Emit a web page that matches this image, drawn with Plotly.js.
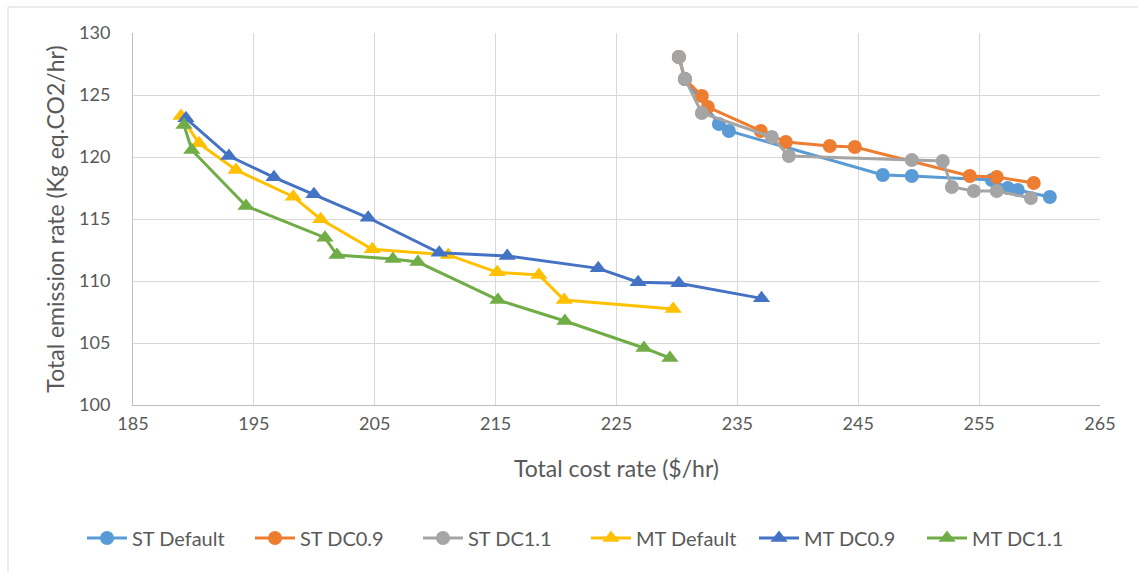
<!DOCTYPE html>
<html>
<head>
<meta charset="utf-8">
<script src="https://cdn.plot.ly/plotly-3.0.1.min.js"></script>
<style>html,body{margin:0;padding:0;background:#fff;}#chart{width:1138px;height:572px;}</style>
</head>
<body>
<div id="chart"></div>
<script>
// ST series (circles)
const stDefaultX = [230.16, 230.66, 233.47, 234.30, 247.03, 249.43, 256.05, 257.37, 258.20, 260.85];
const stDefaultY = [128.06, 126.29, 122.66, 122.10, 118.55, 118.47, 118.15, 117.50, 117.34, 116.77];
const stDC09X = [230.16, 230.66, 232.06, 232.56, 236.94, 239.01, 242.65, 244.72, 254.23, 256.46, 259.52];
const stDC09Y = [128.06, 126.29, 124.92, 124.03, 122.10, 121.21, 120.89, 120.81, 118.47, 118.39, 117.90];
const stDC11X = [230.16, 230.66, 232.06, 237.85, 239.26, 249.43, 251.99, 252.74, 254.56, 256.46, 259.28];
const stDC11Y = [128.06, 126.29, 123.55, 121.61, 120.08, 119.76, 119.68, 117.58, 117.26, 117.26, 116.69];
// MT series (triangles)
const mtDefaultX = [188.97, 190.46, 193.52, 198.26, 200.53, 204.79, 211.08, 215.13, 218.58, 220.67, 229.69];
const mtDefaultY = [123.31, 121.10, 118.95, 116.80, 114.98, 112.56, 112.10, 110.70, 110.48, 108.47, 107.74];
const mtDC09X = [189.38, 192.94, 196.66, 199.97, 204.46, 210.33, 215.96, 223.49, 226.79, 230.16, 237.00];
const mtDC09Y = [123.12, 120.08, 118.36, 116.99, 115.10, 112.28, 112.02, 111.02, 109.90, 109.81, 108.60];
const mtDC11X = [189.22, 189.86, 194.35, 200.88, 201.87, 206.50, 208.57, 215.19, 220.73, 227.27, 229.42];
const mtDC11Y = [122.58, 120.56, 116.05, 113.49, 112.10, 111.77, 111.53, 108.47, 106.77, 104.60, 103.79];

const seriesNames = ["ST Default", "ST DC0.9", "ST DC1.1", "MT Default", "MT DC0.9", "MT DC1.1"];
const seriesColors = ["#5B9BD5", "#ED7D31", "#A5A5A5", "#FFC000", "#4472C4", "#70AD47"];
const xs = [stDefaultX, stDC09X, stDC11X, mtDefaultX, mtDC09X, mtDC11X];
const ys = [stDefaultY, stDC09Y, stDC11Y, mtDefaultY, mtDC09Y, mtDC11Y];
const xTicks = [185, 195, 205, 215, 225, 235, 245, 255, 265];
const yTicks = [100, 105, 110, 115, 120, 125, 130];

const FONT = "Lato, 'Open Sans', sans-serif";
const traces = seriesNames.map((n, i) => ({
  type: "scatter", mode: "lines+markers", name: n,
  x: xs[i], y: ys[i],
  legend: i < 3 ? "legend" : "legend2",
  line: {color: seriesColors[i], width: 3},
  marker: {color: seriesColors[i], size: i < 3 ? 14 : 15, symbol: i < 3 ? "circle" : "triangle-up"}
}));

function legendAt(px) {
  return {orientation: "h", xref: "container", yref: "container", x: px / 1138, xanchor: "left",
          y: 1 - 538 / 572, yanchor: "middle",
          font: {family: FONT, size: 20, color: "#595959"}, itemwidth: 40,
          entrywidth: 113, entrywidthmode: "pixels", tracegroupgap: 0, bgcolor: "rgba(0,0,0,0)"};
}

const layout = {
  width: 1138, height: 572,
  margin: {l: 133, r: 38, t: 33, b: 167},
  paper_bgcolor: "#fff", plot_bgcolor: "#fff",
  font: {family: FONT, color: "#595959", size: 18},
  showlegend: true,
  legend: legendAt(82),
  legend2: legendAt(586),
  xaxis: {range: [185, 265], tickvals: xTicks, ticktext: xTicks.map(String), automargin: false,
          showgrid: true, gridcolor: "#D9D9D9", gridwidth: 1,
          showline: true, linecolor: "#BFBFBF", linewidth: 1, zeroline: false,
          ticks: "outside", ticklen: 2, tickcolor: "rgba(0,0,0,0)", tickfont: {size: 18, color: "#595959"},
          title: {text: "Total cost rate ($/hr)", font: {size: 23, color: "#595959"}, standoff: 28}},
  yaxis: {range: [100, 130], tickvals: yTicks, ticktext: yTicks.map(String), automargin: false,
          showgrid: true, gridcolor: "#D9D9D9", gridwidth: 1,
          showline: true, linecolor: "#BFBFBF", linewidth: 1, zeroline: false,
          ticks: "outside", ticklen: 18, tickcolor: "rgba(0,0,0,0)", tickfont: {size: 18, color: "#595959"},
          title: {text: "Total emission rate (Kg eq.CO2/hr)", font: {size: 23, color: "#595959"}, standoff: 8}},
  shapes: [{type: "rect", xref: "paper", yref: "paper",
            x0: (8 - 133) / 967, x1: (1145 - 133) / 967,
            y0: (405 - 580) / 372, y1: 1 + (33 - 7) / 372,
            line: {color: "#D9D9D9", width: 1}, fillcolor: "rgba(0,0,0,0)", layer: "below"}]
};
Plotly.newPlot("chart", traces, layout, {displayModeBar: false, staticPlot: true});
</script>
</body>
</html>
